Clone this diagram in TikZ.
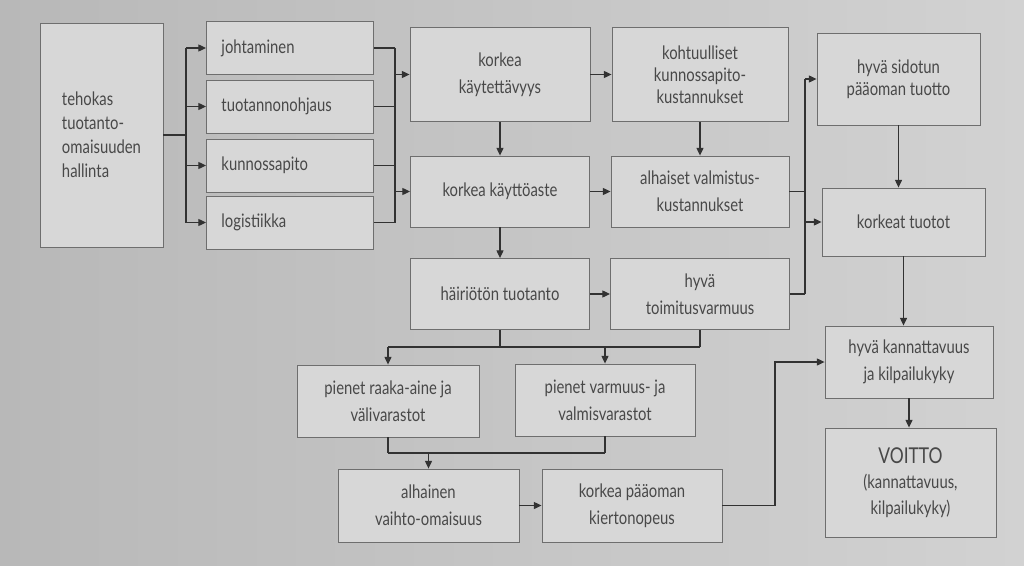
\documentclass[tikz,border=0pt]{standalone}
\usepackage{fontspec}
\setmainfont{Lato}[FakeStretch=0.8]
\usetikzlibrary{arrows.meta}
\definecolor{paper}{RGB}{210,210,210}
\definecolor{paperdark}{RGB}{184,184,184}
\definecolor{boxfill}{RGB}{215,215,215}
\definecolor{boxline}{RGB}{110,110,110}
\definecolor{ink}{RGB}{72,72,72}
\definecolor{wire}{RGB}{50,50,50}

\tikzset{
  box/.style={draw=boxline, fill=boxfill, line width=0.6pt, text=ink, align=center,
    inner sep=2pt, font=\fontsize{13.2}{19}\selectfont},
  boxsize/.style 2 args={minimum width=#1cm, minimum height=#2cm},
  task/.style={box, align=left, text width=3.425cm, inner xsep=0.375cm, minimum height=1.325cm},
  wire/.style={draw=wire, line width=0.8pt},
  arr/.style={wire, -{Triangle[length=5.5pt,width=5pt]}}
}

\begin{document}
\begin{tikzpicture}[x=0.025cm, y=-0.025cm]
  % page (pixel grid, y downwards)
  \useasboundingbox (0,0) rectangle (1024,565);
  \shade[left color=paperdark, right color=paper] (0,0) rectangle (1024,565);

  % left column
  \node[box, boxsize={3.075}{5.6}, align=left, font=\fontsize{13.2}{17}\selectfont] (hallinta) at (101.5,135)
    {tehokas\\tuotanto-\\omaisuuden\\hallinta};
  \foreach \n/\y/\t in {johto/48/johtaminen, ohjaus/106.5/tuotannonohjaus,
                        kunto/165.5/kunnossapito, logis/222.5/logistiikka}
    \node[task] (\n) at (290,\y) {\t};

  % middle columns
  \node[box, boxsize={4.5}{2.35}] (kayt) at (500,74.5) {korkea\\käytettävyys};
  \node[box, boxsize={4.475}{1.775}] (aste) at (500,191.5) {korkea käyttöaste};
  \node[box, boxsize={4.475}{1.775}] (hairio) at (500,294) {häiriötön tuotanto};
  \node[box, boxsize={4.4}{2.35}, font=\fontsize{13.2}{15.5}\selectfont] (kohtuu) at (700,74.5)
    {kohtuulliset\\kunnossapito-\\kustannukset};
  \node[box, boxsize={4.45}{1.775}] (valm) at (700,191.5) {alhaiset valmistus-\\kustannukset};
  \node[box, boxsize={4.475}{1.775}] (toimitus) at (700,294) {hyvä\\toimitusvarmuus};

  % right column
  \node[box, boxsize={4.075}{2.3}, font=\fontsize{13.2}{15.5}\selectfont] (sidottu) at (898.5,79)
    {hyvä sidotun\\pääoman tuotto};
  \node[box, boxsize={4.075}{1.7}] (tuotot) at (903.5,222) {korkeat tuotot};
  \node[box, boxsize={4.2}{1.8}] (kannatt) at (909,362) {hyvä kannattavuus\\ja kilpailukyky};
  \node[box, boxsize={4.275}{2.725}, font=\fontsize{13.2}{18}\selectfont] (voitto) at (910.5,482.5)
    {{\fontsize{15.5}{18}\selectfont VOITTO}\\(kannattavuus,\\kilpailukyky)};

  % stores and capital
  \node[box, boxsize={4.55}{1.8}] (raaka) at (388,401) {pienet raaka-aine ja\\välivarastot};
  \node[box, boxsize={4.5}{1.8}] (varmuus) at (605,400) {pienet varmuus- ja\\valmisvarastot};
  \node[box, boxsize={4.525}{1.825}] (vaihto) at (428.5,505.5) {alhainen\\vaihto-omaisuus};
  \node[box, boxsize={4.5}{1.825}] (kierto) at (632,505.5) {korkea pääoman\\kiertonopeus};

  % branch points
  \coordinate (split) at (186,135);
  \coordinate (join) at (395,135);
  \coordinate (joinR) at (805,190);
  \coordinate (busA) at (500,347);
  \coordinate (busB) at (430,453);
  \coordinate (turn) at (775,505.5);

  % fan out / fan in
  \draw[wire] (hallinta.east) -- (split);
  \draw[wire] (split |- johto.west) -- (split |- logis.west);
  \draw[wire] (join |- johto.east) -- (join |- logis.east);
  \foreach \n in {johto,ohjaus,kunto,logis} {
    \draw[arr] (split |- \n.west) -- (\n.west);
    \draw[wire] (\n.east) -- (join |- \n.east);
  }
  \draw[arr] (join |- kayt.west) -- (kayt.west);
  \draw[arr] (join |- aste.west) -- (aste.west);

  \draw[arr] (kayt) -- (kohtuu);
  \draw[arr] (kayt) -- (aste);
  \draw[arr] (kohtuu) -- (valm);
  \draw[arr] (aste) -- (valm);
  \draw[arr] (aste) -- (hairio);
  \draw[arr] (hairio) -- (toimitus);

  % into the right column
  \draw[wire] (valm.east) -- (joinR |- valm.east);
  \draw[wire] (toimitus.east) -- (joinR |- toimitus.east);
  \draw[wire] (joinR |- sidottu.west) -- (joinR |- toimitus.east);
  \draw[arr] (joinR |- sidottu.west) -- (sidottu.west);
  \draw[arr] (joinR |- tuotot.west) -- (tuotot.west);
  \draw[arr] (sidottu.south) -- (sidottu.south |- tuotot.north);
  \draw[arr] (tuotot.south) -- (tuotot.south |- kannatt.north);
  \draw[arr] (kannatt.south) -- (kannatt.south |- voitto.north);

  % stores
  \draw[wire] (hairio.south) -- (hairio.south |- busA);
  \draw[wire] (toimitus.south) -- (toimitus.south |- busA);
  \draw[wire] (raaka.north |- busA) -- (toimitus.south |- busA);
  \draw[arr] (raaka.north |- busA) -- (raaka.north);
  \draw[arr] (varmuus.north |- busA) -- (varmuus.north);
  \draw[wire] (raaka.south) -- (raaka.south |- busB);
  \draw[wire] (varmuus.south) -- (varmuus.south |- busB);
  \draw[wire] (raaka.south |- busB) -- (varmuus.south |- busB);
  \draw[arr] (vaihto.north |- busB) -- (vaihto.north);
  \draw[arr] (vaihto) -- (kierto);
  \draw[wire] (kierto.east) -- (turn);
  \draw[arr] (turn) |- (kannatt.west);
\end{tikzpicture}
\end{document}
